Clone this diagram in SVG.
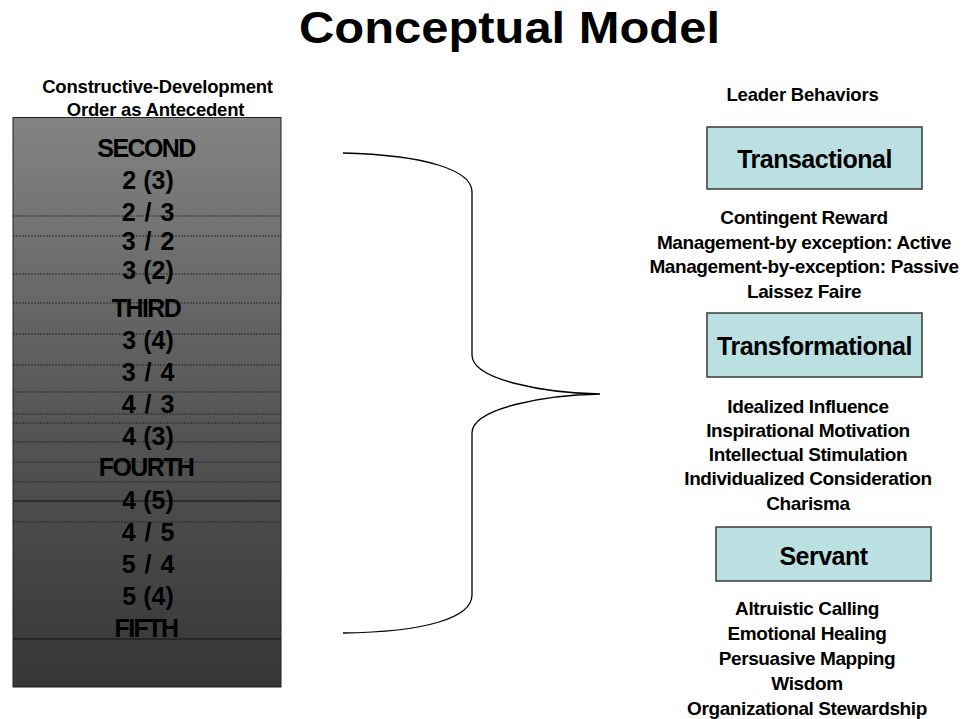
<svg xmlns="http://www.w3.org/2000/svg" width="964" height="719" viewBox="0 0 964 719">
  <defs>
    <linearGradient id="colGrad" x1="0" y1="0" x2="0" y2="1">
      <stop offset="0" stop-color="#838383"/>
      <stop offset="0.5" stop-color="#585858"/>
      <stop offset="1" stop-color="#363636"/>
    </linearGradient>
  </defs>
  <style>
    text { font-family: "Liberation Sans", Arial, sans-serif; fill: #000; text-anchor: middle; }
    .title { font-size: 45px; font-weight: bold; }
    .hdr { font-size: 18.5px; font-weight: bold; letter-spacing: -0.2px; }
    .ord { font-size: 25px; font-weight: bold; letter-spacing: -1.6px; }
    .num { font-size: 25px; font-weight: bold; }
    .sl { font-size: 25px; font-weight: bold; letter-spacing: 1px; }
    .box { fill: #bbe0e2; stroke: #3a3a3a; stroke-width: 1.5; }
    .btitle { font-size: 25px; font-weight: bold; letter-spacing: -0.5px; }
    .item { font-size: 19px; font-weight: bold; letter-spacing: -0.4px; }
    .dot { stroke: #1e1e1e; stroke-width: 1; stroke-dasharray: 2 1; opacity: 0.8; }
    .solid { stroke: #111; stroke-width: 1.2; }
    .brace { fill: none; stroke: #000; stroke-width: 1.3; }
  </style>

  <g id="title">
    <text class="title" x="509.5" y="43" textLength="421" lengthAdjust="spacingAndGlyphs">Conceptual Model</text>
  </g>

  <g id="left-header">
    <text class="hdr" x="157.5" y="93">Constructive-Development</text>
    <text class="hdr" x="155.5" y="116">Order as Antecedent</text>
  </g>

  <g id="order-column">
    <rect x="13" y="117.5" width="268" height="569.5" fill="url(#colGrad)" stroke="#222" stroke-width="1"/>
    <g class="rules">
      <line class="dot" x1="13" y1="216" x2="281" y2="216"/>
      <line class="dot" x1="13" y1="236" x2="281" y2="236"/>
      <line class="dot" x1="13" y1="274" x2="281" y2="274"/>
      <line class="dot" x1="13" y1="303" x2="281" y2="303"/>
      <line class="dot" x1="13" y1="334" x2="281" y2="334"/>
      <line class="dot" x1="13" y1="365" x2="281" y2="365"/>
      <line class="dot" x1="13" y1="392" x2="281" y2="392"/>
      <line class="dot" x1="13" y1="414" x2="281" y2="414"/>
      <line class="dot" x1="13" y1="423" x2="281" y2="423"/>
      <line class="dot" x1="13" y1="442" x2="281" y2="442"/>
      <line class="dot" x1="13" y1="462" x2="281" y2="462"/>
      <line class="dot" x1="13" y1="482" x2="281" y2="482"/>
      <line class="solid" x1="13" y1="501" x2="281" y2="501"/>
      <line class="dot" x1="13" y1="522" x2="281" y2="522"/>
      <line class="solid" x1="13" y1="639" x2="281" y2="639"/>
    </g>
    <text class="ord" x="146" y="157">SECOND</text>
    <text class="num" x="148" y="189">2 (3)</text>
    <text class="sl" x="148.5" y="221">2 / 3</text>
    <text class="sl" x="148.5" y="250">3 / 2</text>
    <text class="num" x="148" y="279">3 (2)</text>
    <text class="ord" x="146" y="317">THIRD</text>
    <text class="num" x="148" y="349">3 (4)</text>
    <text class="sl" x="148.5" y="381">3 / 4</text>
    <text class="sl" x="148.5" y="413">4 / 3</text>
    <text class="num" x="148" y="445">4 (3)</text>
    <text class="ord" x="146" y="476">FOURTH</text>
    <text class="num" x="148" y="509">4 (5)</text>
    <text class="sl" x="148.5" y="541">4 / 5</text>
    <text class="sl" x="148.5" y="573">5 / 4</text>
    <text class="num" x="148" y="605">5 (4)</text>
    <text class="ord" x="146" y="637">FIFTH</text>
  </g>

  <g id="connectors">
    <path class="brace" d="M343,153 C425,155 472,170 472,192 L472,355 C472,380 545,393 600,394 C545,395 472,408 472,433 L472,595 C472,618 425,632 343,633"/>
  </g>

  <g id="right-header">
    <text class="hdr" x="802.5" y="101">Leader Behaviors</text>
  </g>

  <g id="transactional">
    <rect class="box" x="707" y="127" width="215" height="62"/>
    <text class="btitle" x="814.5" y="168">Transactional</text>
  </g>
  <g id="transactional-items">
    <text class="item" x="804" y="224">Contingent Reward</text>
    <text class="item" x="804" y="248.5">Management-by exception: Active</text>
    <text class="item" x="804" y="273">Management-by-exception: Passive</text>
    <text class="item" x="804" y="297.5">Laissez Faire</text>
  </g>

  <g id="transformational">
    <rect class="box" x="707" y="313" width="215" height="64"/>
    <text class="btitle" x="814.5" y="355">Transformational</text>
  </g>
  <g id="transformational-items">
    <text class="item" x="808" y="413">Idealized Influence</text>
    <text class="item" x="808" y="437">Inspirational Motivation</text>
    <text class="item" x="808" y="461">Intellectual Stimulation</text>
    <text class="item" x="808" y="485">Individualized Consideration</text>
    <text class="item" x="808" y="510">Charisma</text>
  </g>

  <g id="servant">
    <rect class="box" x="716" y="527" width="215" height="54"/>
    <text class="btitle" x="823.5" y="565">Servant</text>
  </g>
  <g id="servant-items">
    <text class="item" x="807" y="615">Altruistic Calling</text>
    <text class="item" x="807" y="640">Emotional Healing</text>
    <text class="item" x="807" y="665">Persuasive Mapping</text>
    <text class="item" x="807" y="690">Wisdom</text>
    <text class="item" x="807" y="715">Organizational Stewardship</text>
  </g>
</svg>
